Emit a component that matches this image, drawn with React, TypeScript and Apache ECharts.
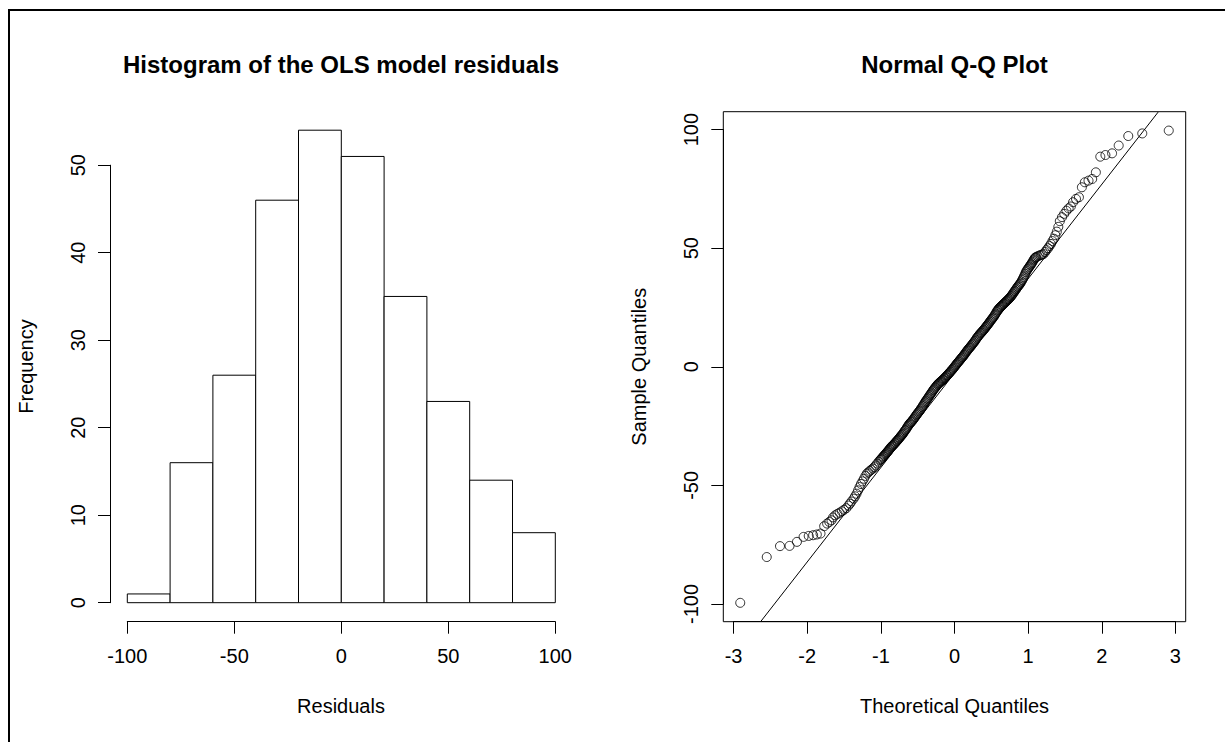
import React, { useEffect, useRef } from "react";
import * as echarts from "echarts";

// Histogram data
const BREAKS = [-100, -80, -60, -40, -20, 0, 20, 40, 60, 80, 100];
const COUNTS = [1, 16, 26, 46, 54, 51, 35, 23, 14, 8];
const HIST_X_TICKS = [-100, -50, 0, 50, 100];
const HIST_Y_TICKS = [0, 10, 20, 30, 40, 50];

// Q-Q plot data: [theoretical quantile, sample quantile]
const QQ_TAILS_AND_MID: number[][] = [
  [-2.91, -99.5], [-2.55, -80.2], [-2.37, -75.6], [-2.24, -75.5], [-2.14, -73.8], [-2.05, -71.7],
  [-1.98, -71.3], [-1.92, -71.0], [-1.87, -70.7], [-1.82, -70.3], [-1.77, -67.2], [-1.73, -66.1],
  [-1.70, -65.4], [-1.67, -64.7], [-1.65, -63.5], [-1.62, -62.6], [-1.59, -62.0], [-1.56, -61.5],
  [-1.53, -60.9], [-1.50, -60.3], [-1.47, -59.6], [-1.44, -58.5], [-1.42, -57.7], [-1.40, -56.8],
  [-1.37, -55.6], [-1.35, -54.6], [-1.33, -53.5], [-1.31, -52.1], [-1.29, -50.7], [-1.27, -49.4],
  [-1.25, -48.3], [-1.23, -47.2], [-1.21, -46.0], [-1.19, -45.0], [-1.17, -44.5], [-1.15, -43.9],
  [-1.13, -43.4], [-1.11, -42.9], [-1.09, -42.3], [-1.07, -41.6], [-1.05, -40.8], [-1.03, -40.0],
  [-1.01, -39.3], [-0.99, -38.7], [-0.97, -37.9], [-0.95, -37.2], [-0.93, -36.5], [-0.91, -35.8],
  [-0.89, -35.0], [-0.87, -34.2], [-0.85, -33.5], [-0.83, -32.9], [-0.81, -32.2], [-0.79, -31.5],
  [-0.77, -30.8], [-0.75, -30.1], [-0.73, -29.3], [-0.71, -28.6], [-0.69, -27.7], [-0.67, -26.8],
  [-0.65, -25.9], [-0.63, -24.9], [-0.61, -24.0], [-0.59, -23.3], [-0.57, -22.6], [-0.55, -21.8],
  [-0.53, -20.9], [-0.51, -20.0], [-0.49, -19.2], [-0.47, -18.4], [-0.45, -17.5], [-0.43, -16.5],
  [-0.41, -15.5], [-0.39, -14.5], [-0.37, -13.6], [-0.35, -12.7], [-0.33, -11.8], [-0.31, -10.9],
  [-0.29, -9.9], [-0.27, -9.1], [-0.25, -8.3], [-0.23, -7.5], [-0.21, -6.9], [-0.19, -6.3],
  [-0.17, -5.8], [-0.15, -5.2], [-0.13, -4.6], [-0.11, -3.9], [-0.09, -3.3], [-0.07, -2.6],
  [-0.05, -1.9], [-0.03, -1.2], [-0.01, -0.4], [0.01, 0.4], [0.03, 1.2], [0.05, 2.0],
  [0.07, 2.7], [0.09, 3.5], [0.11, 4.2], [0.13, 5.0], [0.15, 5.9], [0.17, 6.7],
  [0.19, 7.5], [0.21, 8.2], [0.23, 9.0], [0.25, 9.8], [0.27, 10.6], [0.29, 11.5],
  [0.31, 12.4], [0.33, 13.2], [0.35, 14.0], [0.37, 14.6], [0.39, 15.4], [0.41, 16.1],
  [0.43, 16.9], [0.45, 17.7], [0.47, 18.5], [0.49, 19.4], [0.51, 20.2], [0.53, 21.0],
  [0.55, 22.0], [0.57, 23.1], [0.59, 24.0], [0.61, 24.8], [0.63, 25.4], [0.65, 26.0],
  [0.67, 26.6], [0.69, 27.2], [0.71, 27.8], [0.73, 28.4], [0.75, 29.1], [0.77, 29.8],
  [0.79, 30.7], [0.81, 31.6], [0.83, 32.5], [0.85, 33.4], [0.87, 34.2], [0.89, 35.0],
  [0.91, 36.0], [0.93, 37.2], [0.95, 38.5], [0.97, 39.9], [0.99, 41.0], [1.01, 41.9],
  [1.03, 42.8], [1.05, 43.7], [1.07, 44.8], [1.09, 45.8], [1.11, 46.3], [1.13, 46.6],
  [1.15, 46.9], [1.17, 47.1], [1.19, 47.3], [1.21, 47.6], [1.23, 48.4], [1.25, 49.2],
  [1.27, 50.0], [1.29, 50.9], [1.31, 51.8], [1.33, 53.0], [1.35, 54.0], [1.37, 55.5],
  [1.39, 57.0], [1.41, 59.0], [1.43, 61.4], [1.46, 63.1], [1.49, 64.5], [1.52, 65.8],
  [1.55, 66.8], [1.58, 67.6], [1.61, 69.4], [1.65, 70.8], [1.69, 71.5], [1.73, 75.7],
  [1.77, 77.8], [1.82, 78.5], [1.87, 79.2], [1.92, 82.0], [1.98, 88.6], [2.05, 89.3],
  [2.14, 90.0], [2.23, 93.3], [2.36, 97.3], [2.55, 98.4], [2.91, 99.6],
];
// the dense central band (where the circles merge into a solid stroke)
const QQ_DENSE_MID: number[][] = [
  [-1.00, -39.0], [-0.98, -38.3], [-0.96, -37.6], [-0.94, -36.9], [-0.92, -36.1], [-0.90, -35.4],
  [-0.88, -34.6], [-0.86, -33.8], [-0.84, -33.2], [-0.82, -32.6], [-0.80, -31.9], [-0.78, -31.2],
  [-0.76, -30.5], [-0.74, -29.7], [-0.72, -28.9], [-0.70, -28.2], [-0.68, -27.2], [-0.66, -26.4],
  [-0.64, -25.4], [-0.62, -24.4], [-0.60, -23.7], [-0.58, -23.0], [-0.56, -22.2], [-0.54, -21.3],
  [-0.52, -20.4], [-0.50, -19.6], [-0.48, -18.8], [-0.46, -17.9], [-0.44, -17.0], [-0.42, -16.0],
  [-0.40, -15.0], [-0.38, -14.1], [-0.36, -13.2], [-0.34, -12.2], [-0.32, -11.3], [-0.30, -10.4],
  [-0.28, -9.5], [-0.26, -8.7], [-0.24, -7.9], [-0.22, -7.2], [-0.20, -6.6], [-0.18, -6.1],
  [-0.16, -5.5], [-0.14, -4.9], [-0.12, -4.3], [-0.10, -3.6], [-0.08, -2.9], [-0.06, -2.2],
  [-0.04, -1.5], [-0.02, -0.8], [0.00, 0.0], [0.02, 0.8], [0.04, 1.6], [0.06, 2.3],
  [0.08, 3.1], [0.10, 3.9], [0.12, 4.6], [0.14, 5.4], [0.16, 6.3], [0.18, 7.1],
  [0.20, 7.9], [0.22, 8.6], [0.24, 9.4], [0.26, 10.2], [0.28, 11.0], [0.30, 12.0],
  [0.32, 12.8], [0.34, 13.6], [0.36, 14.3], [0.38, 15.0], [0.40, 15.7], [0.42, 16.5],
  [0.44, 17.3], [0.46, 18.1], [0.48, 19.0], [0.50, 19.8], [0.52, 20.6], [0.54, 21.5],
  [0.56, 22.5], [0.58, 23.6], [0.60, 24.4], [0.62, 25.1], [0.64, 25.7], [0.66, 26.3],
  [0.68, 26.9], [0.70, 27.5], [0.72, 28.1], [0.74, 28.7], [0.76, 29.4], [0.78, 30.2],
  [0.80, 31.1], [0.82, 32.0], [0.84, 32.9], [0.86, 33.8], [0.88, 34.6], [0.90, 35.5],
  [0.92, 36.6], [0.94, 37.8], [0.96, 39.2], [0.98, 40.5], [1.00, 41.4], [1.02, 42.3],
  [1.04, 43.2], [1.06, 44.2], [1.08, 45.3], [1.10, 46.1],
];
// qqline endpoints as read where it meets the plot box
const QQ_LINE: number[][] = [[-2.632, -107.4], [2.766, 107.4]];
const QQ_X_TICKS = [-3, -2, -1, 0, 1, 2, 3];
const QQ_Y_TICKS = [-100, -50, 0, 50, 100];

const FONT = "'Liberation Sans', Arial, Helvetica, sans-serif";

const HIST_DATA = COUNTS.map((c, i) => [BREAKS[i], BREAKS[i + 1], c]);
const QQ_POINTS = QQ_TAILS_AND_MID.concat(QQ_DENSE_MID);

function axisStyle(extra: any) {
  return {
    axisLine: { show: true, onZero: false, lineStyle: { color: "#000", width: 1 } },
    axisTick: { show: true, length: 12, lineStyle: { color: "#000", width: 1 } },
    splitLine: { show: false },
    ...extra,
  };
}

export default function App() {
  const ref = useRef<HTMLDivElement>(null);
  useEffect(() => {
    if (!ref.current) return;
    const chart = echarts.init(ref.current, null, { renderer: "svg" });
    const xLabel = { color: "#000", fontSize: 20, fontFamily: FONT, margin: 24, showMinLabel: true, showMaxLabel: true };
    const yLabel = { color: "#000", fontSize: 20, fontFamily: FONT, margin: 22, rotate: 90, showMinLabel: true, showMaxLabel: true };
    const option: any = {
      animation: false,
      backgroundColor: "#fff",
      grid: [
        { left: 127.3, top: 130.2, width: 428, height: 472.5 },
        { left: 127.3, top: 165.2, width: 428, height: 437.5 },
        { left: 723.3, top: 111.7, width: 462.4, height: 510, show: true, borderColor: "#000", borderWidth: 1, backgroundColor: "transparent" },
        { left: 733.6, top: 129.6, width: 441.8, height: 474.4 },
      ],
      xAxis: [
        { type: "value", gridIndex: 0, min: BREAKS[0], max: BREAKS[BREAKS.length - 1], show: false },
        axisStyle({
          type: "value", gridIndex: 1, min: HIST_X_TICKS[0], max: HIST_X_TICKS[HIST_X_TICKS.length - 1],
          interval: HIST_X_TICKS[1] - HIST_X_TICKS[0], offset: 19, axisLabel: xLabel,
        }),
        { type: "value", gridIndex: 2, min: -3.14, max: 3.14, show: false },
        axisStyle({
          type: "value", gridIndex: 3, min: QQ_X_TICKS[0], max: QQ_X_TICKS[QQ_X_TICKS.length - 1],
          interval: QQ_X_TICKS[1] - QQ_X_TICKS[0], offset: 17.7, axisLabel: xLabel,
        }),
      ],
      yAxis: [
        { type: "value", gridIndex: 0, min: 0, max: 54, show: false },
        axisStyle({
          type: "value", gridIndex: 1, min: HIST_Y_TICKS[0], max: HIST_Y_TICKS[HIST_Y_TICKS.length - 1],
          interval: HIST_Y_TICKS[1] - HIST_Y_TICKS[0], offset: 17.3, axisLabel: yLabel,
        }),
        { type: "value", gridIndex: 2, min: -107.46, max: 107.56, show: false },
        axisStyle({
          type: "value", gridIndex: 3, min: QQ_Y_TICKS[0], max: QQ_Y_TICKS[QQ_Y_TICKS.length - 1],
          interval: QQ_Y_TICKS[1] - QQ_Y_TICKS[0], offset: 10.3, axisLabel: yLabel,
        }),
      ],
      series: [
        {
          type: "custom",
          xAxisIndex: 0,
          yAxisIndex: 0,
          encode: { x: [0, 1], y: 2 },
          data: HIST_DATA,
          renderItem: (_params: any, api: any) => {
            const p0 = api.coord([api.value(0), api.value(2)]);
            const p1 = api.coord([api.value(1), 0]);
            return {
              type: "rect",
              shape: { x: p0[0], y: p0[1], width: p1[0] - p0[0], height: p1[1] - p0[1] },
              style: { fill: "#fff", stroke: "#000", lineWidth: 1 },
            };
          },
        },
        {
          type: "line",
          xAxisIndex: 2,
          yAxisIndex: 2,
          data: QQ_LINE,
          symbol: "none",
          lineStyle: { color: "#000", width: 1 },
          silent: true,
        },
        {
          type: "scatter",
          xAxisIndex: 2,
          yAxisIndex: 2,
          data: QQ_POINTS,
          symbol: "circle",
          symbolSize: 9,
          itemStyle: { color: "rgba(0,0,0,0)", borderColor: "#000", borderWidth: 1 },
        },
      ],
      graphic: [
        { type: "rect", shape: { x: 9, y: 10, width: 1400, height: 900 }, style: { fill: "none", stroke: "#000", lineWidth: 2 }, silent: true },
        { type: "text", x: 341, y: 64, style: { text: "Histogram of the OLS model residuals", font: `bold 24px ${FONT}`, fill: "#000", textAlign: "center", textVerticalAlign: "middle" } },
        { type: "text", x: 954.5, y: 64, style: { text: "Normal Q-Q Plot", font: `bold 24px ${FONT}`, fill: "#000", textAlign: "center", textVerticalAlign: "middle" } },
        { type: "text", x: 341, y: 706, style: { text: "Residuals", font: `20px ${FONT}`, fill: "#000", textAlign: "center", textVerticalAlign: "middle" } },
        { type: "text", x: 954.5, y: 706, style: { text: "Theoretical Quantiles", font: `20px ${FONT}`, fill: "#000", textAlign: "center", textVerticalAlign: "middle" } },
        { type: "text", x: 26, y: 366.5, rotation: Math.PI / 2, style: { text: "Frequency", font: `20px ${FONT}`, fill: "#000", textAlign: "center", textVerticalAlign: "middle" } },
        { type: "text", x: 639.3, y: 366.7, rotation: Math.PI / 2, style: { text: "Sample Quantiles", font: `20px ${FONT}`, fill: "#000", textAlign: "center", textVerticalAlign: "middle" } },
      ],
    };
    chart.setOption(option);
    return () => chart.dispose();
  }, []);
  return (
    <div
      ref={ref}
      style={{ position: "fixed", left: 0, top: 0, width: 1225, height: 742, background: "#fff" }}
    />
  );
}
